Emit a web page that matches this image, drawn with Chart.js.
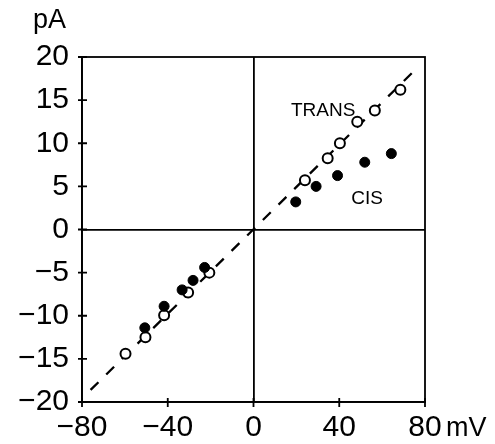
<!DOCTYPE html>
<html>
<head>
<meta charset="utf-8">
<script src="https://cdn.jsdelivr.net/npm/chart.js@4"></script>
<style>
  body { margin: 0; background: #fff; }
  canvas { display: block; }
</style>
</head>
<body>
<canvas id="ivChart" width="495" height="444"></canvas>
<script>
// membrane potential (mV) and current (pA)
const transX = [-59.7, -50.4, -41.7, -30.5, -20.6, 24.0, 34.6, 40.3, 48.4, 56.6, 68.5];
const transY = [-14.4, -12.5, -9.95, -7.3, -5.0, 5.7, 8.25, 10.0, 12.5, 13.8, 16.2];
const cisX = [-50.7, -41.7, -33.3, -28.2, -22.8, 19.7, 29.2, 39.2, 51.9, 64.3];
const cisY = [-11.4, -8.9, -7.0, -5.9, -4.4, 3.2, 5.0, 6.25, 7.8, 8.8];
const fitX = [-76, 77];
const fitY = [-18.6, 18.9];
const xTicks = [-80, -40, 0, 40, 80];
const yTicks = [20, 15, 10, 5, 0, -5, -10, -15, -20];

const FONT = '"Liberation Sans", Arial, sans-serif';

function pts(xs, ys) {
    return xs.map((x, i) => ({ x: x, y: ys[i] }));
}

function fmt(v) {
    return v < 0 ? '\u2212' + Math.abs(v) : String(v);
}

// frame, crossing tick marks, unit labels and series names
const extras = {
    id: 'extras',
    afterDraw(chart) {
        const c = chart.ctx;
        const a = chart.chartArea;
        const xs = chart.scales.x;
        const ys = chart.scales.y;
        c.save();
        c.strokeStyle = '#000';
        c.lineWidth = 1.8;
        c.strokeRect(a.left, a.top, a.right - a.left, a.bottom - a.top);

        c.beginPath();
        xTicks.forEach(v => {
            const px = xs.getPixelForValue(v);
            c.moveTo(px, a.bottom - 4);
            c.lineTo(px, a.bottom + 5);
        });
        yTicks.forEach(v => {
            const py = ys.getPixelForValue(v);
            c.moveTo(a.left - 4, py);
            c.lineTo(a.left + 5, py);
        });
        c.stroke();

        c.fillStyle = '#000';
        c.textBaseline = 'alphabetic';
        c.textAlign = 'left';
        c.font = '27px ' + FONT;
        c.fillText('pA', 33, 28);
        c.font = '27px ' + FONT;
        c.fillText('mV', 446, 436);

        c.font = '19px ' + FONT;
        c.fillText('TRANS', xs.getPixelForValue(17.5), ys.getPixelForValue(13.2));
        c.fillText('CIS', xs.getPixelForValue(45.6), ys.getPixelForValue(2.9));
        c.restore();
    }
};

const ctx = document.getElementById('ivChart');

new Chart(ctx, {
    type: 'scatter',
    data: {
        datasets: [
            {
                label: 'fit',
                type: 'line',
                data: pts(fitX, fitY),
                borderColor: '#000',
                borderWidth: 2.3,
                borderDash: [11, 11],
                pointRadius: 0,
                fill: false,
                order: 3
            },
            {
                label: 'TRANS',
                data: pts(transX, transY),
                pointRadius: 5,
                pointBackgroundColor: '#fff',
                pointBorderColor: '#000',
                pointBorderWidth: 2,
                order: 2
            },
            {
                label: 'CIS',
                data: pts(cisX, cisY),
                pointRadius: 5,
                pointBackgroundColor: '#000',
                pointBorderColor: '#000',
                pointBorderWidth: 1,
                order: 1
            }
        ]
    },
    options: {
        responsive: false,
        animation: false,
        layout: {
            padding: { left: 0, top: 57, right: 70, bottom: 0 }
        },
        plugins: {
            legend: { display: false },
            tooltip: { enabled: false }
        },
        scales: {
            x: {
                type: 'linear',
                min: -80,
                max: 80,
                afterBuildTicks: s => { s.ticks = xTicks.map(v => ({ value: v })); },
                afterFit: s => { s.height = 42; },
                ticks: {
                    color: '#000',
                    font: { family: FONT, size: 30 },
                    padding: 8,
                    maxRotation: 0,
                    callback: v => fmt(v)
                },
                grid: {
                    drawTicks: false,
                    lineWidth: 1.8,
                    color: c => (c.tick && c.tick.value === 0) ? '#000' : 'rgba(0,0,0,0)'
                },
                border: { display: true, color: '#000', width: 1.8 }
            },
            y: {
                type: 'linear',
                min: -20,
                max: 20,
                afterBuildTicks: s => { s.ticks = yTicks.map(v => ({ value: v })); },
                afterFit: s => { s.width = 82; },
                ticks: {
                    color: '#000',
                    font: { family: FONT, size: 30 },
                    padding: 13,
                    callback: v => fmt(v)
                },
                grid: {
                    drawTicks: false,
                    lineWidth: 1.8,
                    color: c => (c.tick && c.tick.value === 0) ? '#000' : 'rgba(0,0,0,0)'
                },
                border: { display: true, color: '#000', width: 1.8 }
            }
        }
    },
    plugins: [extras]
});
</script>
</body>
</html>
